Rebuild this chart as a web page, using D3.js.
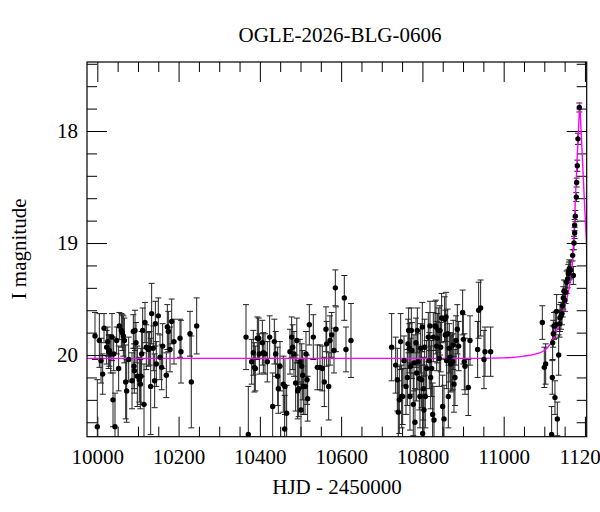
<!DOCTYPE html>
<html><head><meta charset="utf-8">
<script src="https://cdn.jsdelivr.net/npm/d3@7"></script>
<style>
body{margin:0;background:#fff;}
text{font-family:"Liberation Serif","Times New Roman",serif;fill:#000;}
</style>
</head><body>
<svg id="chart" width="600" height="512"></svg>
<script>
const title = "OGLE-2026-BLG-0606";
const xLabel = "HJD - 2450000";
const yLabel = "I magnitude";
const xMajorTicks = [10000, 10200, 10400, 10600, 10800, 11000, 11200];
const yMajorTicks = [18, 19, 20];

const hjd = [
9994.3,10000.0,10005.0,10009.1,10013.2,10016.5,10023.0,10025.5,10027.9,10029.6,10032.9,10036.1,10038.6,10040.2,10043.5,10047.6,10052.5,10054.2,10059.1,10061.6,10064.0,10066.5,10069.8,10072.2,10077.2,10085.4,10088.6,10090.3,10091.1,10092.7,10095.2,10098.5,10103.4,10105.9,10107.5,10109.1,10111.6,10114.9,10117.3,10120.6,10125.5,10128.8,10131.3,10133.7,10137.8,10141.1,10142.8,10145.2,10150.1,10154.3,10158.3,10160.8,10169.8,10172.3,10174.8,10178.9,10183.0,10188.7,10203.5,10205.9,10228.1,10231.3,10244.5,
10365.9,10371.6,10379.8,10383.9,10386.4,10388.8,10393.8,10397.0,10398.7,10406.1,10408.5,10412.6,10418.4,10424.1,10431.5,10435.6,10438.9,10443.8,10445.4,10449.5,10457.7,10461.8,10465.9,10461.0,10474.1,10478.2,10480.7,10484.0,10488.1,10490.9,10493.0,10495.5,10498.7,10501.2,10502.9,10505.3,10507.0,10511.1,10513.5,10516.0,10517.6,10521.7,10531.5,10541.4,10548.0,10553.7,10558.6,10562.7,10564.4,10569.3,10572.6,10576.7,10582.4,10585.7,10587.3,10607.8,10611.9,10624.2,
10724.3,10734.2,10738.3,10740.7,10743.2,10746.5,10748.9,10751.4,10754.7,10759.6,10762.9,10764.5,10766.1,10767.8,10769.4,10771.1,10772.7,10774.3,10777.6,10779.3,10781.7,10784.2,10785.8,10787.5,10789.1,10792.4,10794.0,10795.7,10798.1,10799.8,10800.6,10802.2,10803.9,10805.5,10807.1,10810.4,10814.5,10817.0,10818.6,10820.3,10822.7,10825.2,10826.8,10828.5,10831.0,10833.4,10835.1,10836.7,10839.2,10841.6,10843.2,10844.9,10847.3,10849.8,10853.1,10854.7,10856.4,10858.0,10859.6,10862.1,10863.8,10866.2,10867.8,10869.5,10872.0,10874.4,10876.0,10877.7,10880.1,10882.6,10885.9,10889.2,10899.0,10900.7,10903.1,10904.8,10912.9,10917.1,10935.9,10938.4,10943.3,10951.5,10954.0,10967.9,
11095.1,11100.0,11103.3,11118.0,11119.7,11120.5,11122.1,11123.8,11126.2,11127.9,11130.3,11132.0,11135.3,11137.7,11138.5,11141.0,11143.5,11145.1,11146.7,11148.4,11150.8,11152.5,11154.9,11157.4,11159.0,11160.7,11161.5,11164.8,11171.4,11169.7,11173.0,11174.6,11174.6,11176.3,11178.7,11179.5,11181.2,11182.8,11186.1
];
const imag = [
19.83,20.64,19.87,20.05,20.17,19.76,19.93,19.88,19.97,19.96,19.99,19.84,20.40,19.99,20.64,19.87,20.12,19.74,19.78,19.80,19.83,19.87,20.24,20.32,20.04,20.23,19.79,20.10,20.14,19.78,19.89,20.19,20.22,20.26,20.19,19.99,19.78,20.44,19.71,19.93,19.95,19.94,20.28,19.63,19.94,20.23,19.72,20.08,19.65,20.02,20.11,19.92,20.18,19.75,19.79,19.95,19.70,19.88,19.85,19.97,19.81,20.24,19.74,
19.84,20.71,20.06,19.98,20.11,20.12,19.85,19.85,19.99,19.89,19.98,19.99,20.06,19.84,20.46,19.88,19.99,20.19,20.30,20.10,20.26,20.28,20.52,20.66,19.97,19.84,19.93,19.99,20.25,19.87,20.32,20.30,20.06,20.49,20.10,20.18,20.28,20.28,19.99,20.22,20.39,19.73,19.84,20.11,20.11,20.12,20.24,19.77,19.90,20.28,19.87,19.82,19.96,19.40,19.77,19.49,19.95,19.87,
19.93,20.09,20.22,20.51,20.40,19.88,20.37,20.37,20.05,20.28,20.20,19.90,19.78,19.94,20.37,20.10,19.78,19.96,20.44,20.07,20.60,19.89,20.16,19.78,20.06,20.21,20.37,19.94,20.22,19.75,20.70,20.30,20.49,19.93,20.37,20.12,19.84,20.05,19.74,20.20,20.12,20.53,19.84,20.58,19.74,19.75,19.92,19.85,19.78,20.03,19.78,19.93,19.67,20.46,20.57,19.68,19.82,19.66,20.05,19.81,20.37,19.94,20.02,20.08,20.07,20.06,19.91,20.26,20.20,19.87,19.77,19.92,19.62,19.86,20.06,20.10,20.29,19.87,19.95,19.60,19.58,20.04,19.97,19.97,
19.71,20.11,20.08,20.71,20.20,19.89,19.81,19.74,20.38,19.73,19.61,20.57,20.00,19.72,19.67,19.65,19.63,19.56,19.49,19.43,19.51,19.44,19.35,19.32,19.27,19.25,19.23,19.24,19.29,19.11,19.00,18.91,18.84,18.76,18.59,18.46,18.31,18.07,17.79
];
const ierr = [
0.21,0.42,0.24,0.20,0.18,0.13,0.15,0.13,0.15,0.14,0.17,0.21,0.24,0.15,0.30,0.12,0.20,0.12,0.15,0.16,0.18,0.20,0.33,0.28,0.20,0.25,0.15,0.20,0.20,0.18,0.18,0.27,0.20,0.22,0.25,0.20,0.20,0.36,0.18,0.20,0.15,0.15,0.43,0.27,0.20,0.24,0.20,0.20,0.16,0.20,0.20,0.20,0.20,0.20,0.18,0.20,0.20,0.20,0.17,0.28,0.20,0.41,0.25,
0.29,0.43,0.20,0.20,0.22,0.20,0.19,0.18,0.18,0.20,0.18,0.18,0.18,0.19,0.30,0.20,0.20,0.26,0.22,0.22,0.25,0.25,0.25,0.30,0.20,0.18,0.20,0.20,0.25,0.20,0.25,0.25,0.20,0.25,0.20,0.22,0.25,0.25,0.20,0.22,0.20,0.18,0.20,0.20,0.20,0.20,0.22,0.20,0.20,0.30,0.22,0.20,0.20,0.16,0.20,0.20,0.20,0.33,
0.30,0.25,0.28,0.28,0.30,0.25,0.28,0.25,0.22,0.25,0.25,0.22,0.20,0.22,0.30,0.25,0.20,0.25,0.28,0.25,0.30,0.22,0.25,0.20,0.25,0.28,0.28,0.22,0.25,0.22,0.35,0.28,0.30,0.25,0.28,0.25,0.22,0.25,0.22,0.28,0.25,0.28,0.22,0.30,0.22,0.24,0.22,0.22,0.20,0.25,0.22,0.22,0.22,0.28,0.30,0.20,0.22,0.22,0.25,0.22,0.28,0.22,0.22,0.25,0.25,0.25,0.22,0.25,0.25,0.22,0.22,0.22,0.20,0.22,0.25,0.25,0.25,0.22,0.25,0.25,0.25,0.26,0.22,0.22,
0.15,0.18,0.18,0.25,0.15,0.15,0.12,0.12,0.15,0.12,0.15,0.15,0.18,0.12,0.12,0.12,0.10,0.10,0.10,0.10,0.10,0.10,0.10,0.08,0.08,0.08,0.08,0.08,0.08,0.05,0.06,0.05,0.05,0.05,0.04,0.04,0.05,0.05,0.04
];

const modelHjd = [9970, 10900, 11000, 11050, 11080, 11100, 11115, 11130, 11142, 11155, 11163, 11169.7, 11178.4, 11185.8, 11187.2, 11188.6, 11196.4, 11205.8, 11215];
const modelMag = [20.03, 20.03, 20.025, 20.01, 19.99, 19.96, 19.90, 19.79, 19.65, 19.50, 19.36, 19.15, 18.45, 17.85, 17.75, 17.85, 18.45, 19.15, 19.60];

const svg = d3.select("#chart");
const L = 87, R = 586.7, T = 62, B = 436.7;
const x = d3.scaleLinear().domain([9974.6, 11204.3]).range([L, R]);
const y = d3.scaleLinear().domain([17.384, 20.729]).range([T, B]);

svg.append("defs").append("clipPath").attr("id","clip")
  .append("rect").attr("x",L).attr("y",T).attr("width",R-L).attr("height",B-T);

const xMinor = d3.range(10000, 11201, 50).filter(v => !xMajorTicks.includes(v));
const yMinor = d3.range(17.4, 20.71, 0.2).map(v => +v.toFixed(1)).filter(v => !yMajorTicks.includes(v));

function styleAxis(g){
  g.select(".domain").remove();
  g.selectAll("line").attr("stroke","#000").attr("stroke-width",1);
  g.attr("font-family",null).attr("font-size",null);
  g.selectAll("text").style("font-size","21px");
}

// bottom
svg.append("g").attr("transform",`translate(0,${B})`)
  .call(d3.axisBottom(x).tickValues(xMajorTicks).tickFormat(d3.format("d")).tickSizeInner(-20).tickSizeOuter(0).tickPadding(12))
  .call(styleAxis);
svg.append("g").attr("transform",`translate(0,${B})`)
  .call(d3.axisBottom(x).tickValues(xMinor).tickFormat("").tickSizeInner(-10).tickSizeOuter(0))
  .call(styleAxis);
// top
svg.append("g").attr("transform",`translate(0,${T})`)
  .call(d3.axisTop(x).tickValues(xMajorTicks).tickFormat("").tickSizeInner(-20).tickSizeOuter(0))
  .call(styleAxis);
svg.append("g").attr("transform",`translate(0,${T})`)
  .call(d3.axisTop(x).tickValues(xMinor).tickFormat("").tickSizeInner(-10).tickSizeOuter(0))
  .call(styleAxis);
// left
svg.append("g").attr("transform",`translate(${L},0)`)
  .call(d3.axisLeft(y).tickValues(yMajorTicks).tickFormat(d3.format("d")).tickSizeInner(-20).tickSizeOuter(0).tickPadding(9))
  .call(styleAxis);
svg.append("g").attr("transform",`translate(${L},0)`)
  .call(d3.axisLeft(y).tickValues(yMinor).tickFormat("").tickSizeInner(-10).tickSizeOuter(0))
  .call(styleAxis);
// right
svg.append("g").attr("transform",`translate(${R},0)`)
  .call(d3.axisRight(y).tickValues(yMajorTicks).tickFormat("").tickSizeInner(-20).tickSizeOuter(0))
  .call(styleAxis);
svg.append("g").attr("transform",`translate(${R},0)`)
  .call(d3.axisRight(y).tickValues(yMinor).tickFormat("").tickSizeInner(-10).tickSizeOuter(0))
  .call(styleAxis);

// data
const data = hjd.map((t,i) => ({t, m: imag[i], e: ierr[i]}));
const plot = svg.append("g").attr("clip-path","url(#clip)");

const eb = plot.append("g").attr("stroke","#222").attr("stroke-width",1);
data.forEach(d => {
  const x0 = x(d.t), y1 = y(d.m - d.e), y2 = y(d.m + d.e);
  eb.append("line").attr("x1",x0).attr("x2",x0).attr("y1",y1).attr("y2",y2);
  eb.append("line").attr("x1",x0-3).attr("x2",x0+3).attr("y1",y1).attr("y2",y1);
  eb.append("line").attr("x1",x0-3).attr("x2",x0+3).attr("y1",y2).attr("y2",y2);
});

// model
const model = modelHjd.map((t,i) => ({t, m: modelMag[i]}));
plot.append("path").datum(model)
  .attr("fill","none").attr("stroke","#ff00ff").attr("stroke-width",1.4)
  .attr("d", d3.line().x(d => x(d.t)).y(d => y(d.m)).curve(d3.curveMonotoneX));

plot.append("g").selectAll("circle").data(data).join("circle")
  .attr("cx", d => x(d.t)).attr("cy", d => y(d.m)).attr("r", 2.7).attr("fill","#000");

// frame
svg.append("rect").attr("x",L).attr("y",T).attr("width",R-L).attr("height",B-T)
  .attr("fill","none").attr("stroke","#000").attr("stroke-width",1.2);

// labels
svg.append("text").attr("x",340).attr("y",42.3).attr("text-anchor","middle").style("font-size","21px").text(title);
svg.append("text").attr("x",337).attr("y",494).attr("text-anchor","middle").style("font-size","21px").text(xLabel);
svg.append("text").attr("transform","translate(26,249) rotate(-90)").attr("text-anchor","middle").style("font-size","21px").text(yLabel);
</script>
</body></html>
